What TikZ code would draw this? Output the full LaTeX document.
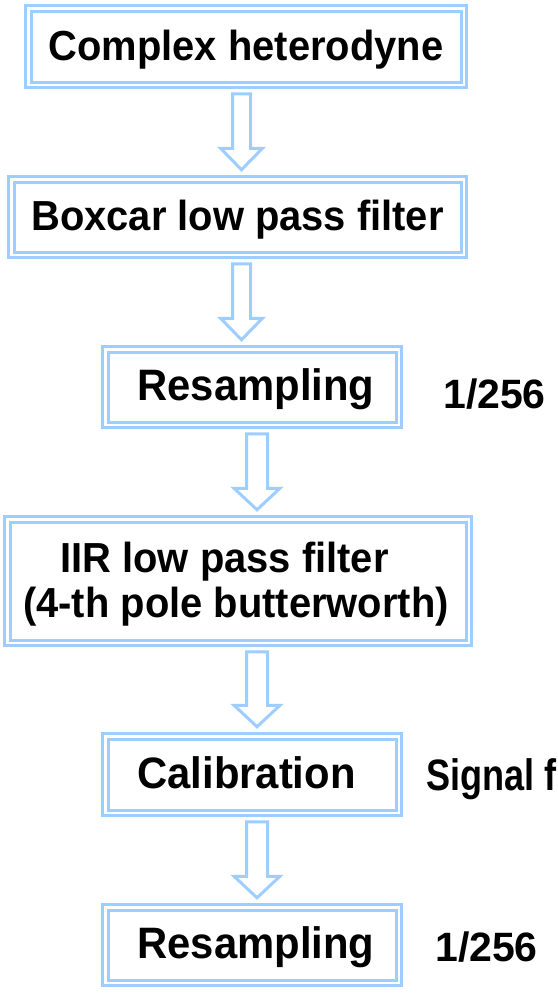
\documentclass[tikz,border=0pt]{standalone}
\usepackage{fontspec}
\setmainfont{Liberation Sans}
\newfontfamily\boxfont{Liberation Sans}[FakeStretch=0.95]
\newfontfamily\narrowfont{Liberation Sans}[FakeStretch=0.82]
\usetikzlibrary{calc}
\definecolor{boxblue}{RGB}{158,206,255}
\tikzset{
  dbox/.style={draw=boxblue, line width=3pt, double=white, double distance=2.5pt,
    inner sep=0pt, text height=27.5pt, text depth=0pt, font=\boxfont\bfseries\fontsize{42}{45}\selectfont},
  bigtext/.style={font=\boxfont\bfseries\fontsize{44}{45}\selectfont},
  arr/.style={draw=boxblue, line width=3pt, fill=white, line join=miter},
  side/.style={inner sep=0pt, anchor=base west, font=\bfseries\fontsize{41}{45}\selectfont}
}
\newcommand\flowarrow[5]{%
  \draw[arr] let \p1=(#1.south), \p2=(#2.north) in
    ({#3pt-#4pt},{\y1-7.5pt}) -- ({#3pt+#4pt},{\y1-7.5pt}) --
    ({#3pt+#4pt},{\y2+29.5pt}) -- ({#3pt+#5pt},{\y2+29.5pt}) --
    ({#3pt},{\y2+8pt}) -- ({#3pt-#5pt},{\y2+29.5pt}) --
    ({#3pt-#4pt},{\y2+29.5pt}) -- cycle;}
\begin{document}
\begin{tikzpicture}[x=1pt,y=-1pt]
\useasboundingbox (0,0) rectangle (557,993);
\clip (0,0) rectangle (557,993);
\node[dbox, minimum width=435.5pt, minimum height=76.5pt] (b1) at (246,46.5) {Complex heterodyne};
\node[dbox, minimum width=452.5pt, minimum height=75.5pt] (b2) at (237.5,217) {Boxcar low pass filter};
\node[dbox, bigtext, minimum width=293.5pt, minimum height=75.5pt] (b3) at (252,387) {\hspace*{8pt}Resampling};
\node[dbox, minimum width=461.5pt, minimum height=123.5pt, align=center, text height=72pt, text depth=0pt] (b4) at (238,581) {IIR low pass filter\rule{27pt}{0pt}\\(4-th pole butterworth)\rule{4pt}{0pt}};
\node[dbox, bigtext, minimum width=293.5pt, minimum height=76.5pt] (b5) at (252,774.5) {Calibration\hspace*{11pt}};
\node[dbox, bigtext, minimum width=293.5pt, minimum height=75.5pt] (b6) at (252,945) {\hspace*{8pt}Resampling};
\node[side] (r1) at (443,408) {1/256};
\node[side] (r2) at (435,961) {1/256};
\node[side, font=\narrowfont\bfseries\fontsize{44}{45}\selectfont] (sig) at (426,790) {Signal f};
\flowarrow{b1}{b2}{241.5}{9}{21}
\flowarrow{b2}{b3}{241.5}{9}{21}
\flowarrow{b3}{b4}{257}{10.5}{23}
\flowarrow{b4}{b5}{257}{10.5}{23}
\flowarrow{b5}{b6}{257}{10.5}{23}
\end{tikzpicture}
\end{document}
